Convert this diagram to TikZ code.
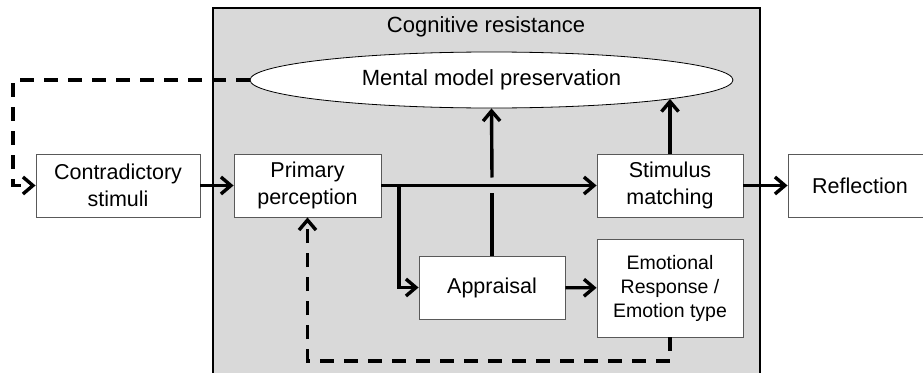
\documentclass[tikz,border=0pt]{standalone}
\usepackage{fontspec}
\setmainfont{Liberation Sans}
\usetikzlibrary{arrows.meta,shapes.geometric}

\tikzset{
  block/.style={draw=black!65, line width=0.9pt, fill=white, align=center,
    inner sep=0pt, font=\fontsize{21.5}{27}\selectfont},
  flow/.style={line width=3.4pt, -{Straight Barb[length=10pt,width=17pt]}},
  plain/.style={line width=3.4pt},
  back/.style={line width=3.4pt, dash pattern=on 14pt off 10pt,
    -{Straight Barb[length=10pt,width=17pt]}},
}

\begin{document}
\begin{tikzpicture}[x=1pt,y=-1pt]
\useasboundingbox (0,0) rectangle (923,372);

% shaded region for the cognitive resistance stage
\draw[line width=2.2pt, fill=black!15] (213,8) rectangle (760,390);
\node[font=\fontsize{22}{26}\selectfont] (title) at (486,27) {Cognitive resistance};

% ellipse
\node[draw=black, line width=0.8pt, fill=white, ellipse, inner sep=0pt,
  minimum width=483pt, minimum height=56pt,
  font=\fontsize{22}{26}\selectfont] (mm) at (491.5,80) {Mental model preservation};

% boxes
\node[block, minimum width=164pt, minimum height=63pt] (cs) at (118,185.5) {Contradictory\\stimuli};
\node[block, minimum width=147pt, minimum height=63pt] (pp) at (307.5,185.5) {Primary\\perception};
\node[block, minimum width=146pt, minimum height=63pt] (sm) at (670,185.5) {Stimulus\\matching};
\node[block, minimum width=144pt, minimum height=63pt] (rf) at (860,185.5) {Reflection};
\node[block, minimum width=146pt, minimum height=63pt] (ap) at (492,287.5) {Appraisal};
\node[block, minimum width=146pt, minimum height=98pt,
  font=\fontsize{19.5}{24}\selectfont] (em) at (670,288) {Emotional\\Response /\\Emotion type};

% helper points
\coordinate (tl) at (13,80);
\coordinate (br) at (399,185.5);
\coordinate (fb) at (307.5,361);
\coordinate (hop) at (492,185.5);

% main flow
\draw[flow] (cs) -- (pp);
\draw[flow] (pp) -- (sm);
\draw[flow] (sm) -- (rf);
\draw[flow] (br) |- (ap.west);
\draw[flow] (ap) -- (em);

% appraisal up to the ellipse, hopping the main line
\draw[plain] (ap.north) -- ([yshift=-7pt]hop);
\draw[flow] ([yshift=8pt]hop) -- (mm.south);
\draw[flow] (sm.north) -- (sm.north |- mm.-6.1);

% feedback loops
\draw[back] (mm.west) -- (tl) |- (cs.west);
\draw[back] (em.south) |- (fb) -- (pp.south);
\end{tikzpicture}
\end{document}
